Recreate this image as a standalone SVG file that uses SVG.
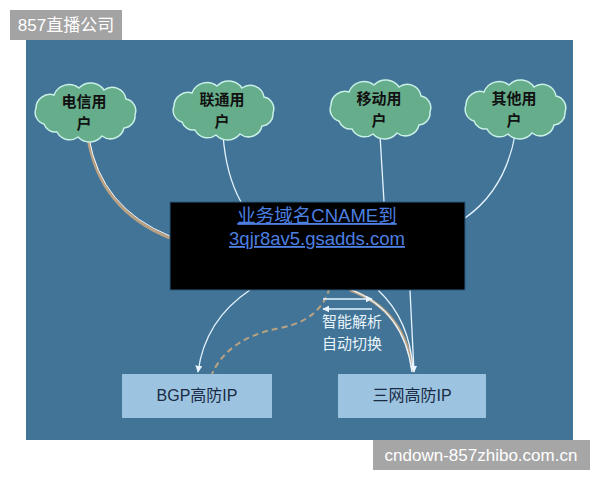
<svg xmlns="http://www.w3.org/2000/svg" width="600" height="480" viewBox="0 0 600 480">
<style>
.cloud{fill:#66ad8b;stroke:#c9f0e6;stroke-width:1.5}
.ct{font-family:"Noto Sans CJK SC",sans-serif;font-size:15px;font-weight:bold;fill:#111;text-anchor:middle}
.box{fill:#9cc4e0}
.bt{font-family:"Liberation Sans","Noto Sans CJK SC",sans-serif;font-size:16px;fill:#1a2a44;text-anchor:middle}
.wl{fill:none;stroke:#e6f4ff;stroke-width:1.3}
.dash{fill:none;stroke:#b9a383;stroke-width:2;stroke-dasharray:6 4}
.lt{font-family:"Liberation Sans","Noto Sans CJK SC",sans-serif;font-size:18.5px;fill:#4c7fe0;text-anchor:middle;text-decoration:underline}
.st{font-family:"Noto Sans CJK SC",sans-serif;font-size:15px;fill:#eaf4fb}
.wm{font-family:"Liberation Sans","Noto Sans CJK SC",sans-serif;font-size:17px;fill:#fff}
</style>
<defs>
<path id="cl" d="M -40,12 A 12 12 0 0 1 -48,-4 A 14 14 0 0 1 -30,-17 A 16 16 0 0 1 -5,-24 A 16 16 0 0 1 20,-22 A 14 14 0 0 1 42,-13 A 12 12 0 0 1 51,3 A 12 12 0 0 1 40,16 A 14 14 0 0 1 18,24 A 16 16 0 0 1 -6,25 A 14 14 0 0 1 -27,20 A 12 12 0 0 1 -40,12 Z"/>
<marker id="ah" viewBox="0 0 10 10" refX="9" refY="5" markerWidth="7" markerHeight="7" orient="auto-start-reverse" markerUnits="userSpaceOnUse"><path d="M0,0 L10,5 L0,10 Z" fill="#eaf4ff"/></marker>
</defs>
<rect width="600" height="480" fill="#fff"/>
<rect x="26" y="40" width="547" height="400" fill="#417497"/>
<g id="label-top"><rect x="10" y="10" width="112" height="30" fill="#a3a3a3"/><text x="66" y="31" class="wm" text-anchor="middle">857直播公司</text></g>
<g id="connectors">
<path d="M 88,138 Q 100,210 170,238" fill="none" stroke="#b8a080" stroke-width="3"/>
<path d="M 89,138 Q 101,208 170,236" fill="none" stroke="#f0f6ff" stroke-width="1"/>
<path class="wl" d="M 223,135 Q 226,175 241,202"/>
<path class="wl" d="M 380,135 Q 382,170 384,202"/>
<path class="wl" d="M 515,135 Q 505,190 465,218"/>
<path class="wl" d="M 250,290 Q 205,320 198,372" marker-end="url(#ah)"/>
<path class="dash" d="M 332,268 Q 332,318 280,328 Q 228,338 212,374"/>
<path d="M 350,290 Q 405,310 413,372" fill="none" stroke="#b8a080" stroke-width="3"/>
<path class="wl" d="M 352,290 Q 404,311 412,372"/>
<path class="wl" d="M 378,290 Q 410,320 413,370"/>
<path class="wl" d="M 410,290 L 414,372" marker-end="url(#ah)"/>
<path class="wl" d="M 323,299 L 372,299" marker-end="url(#ah)"/>
<path class="wl" d="M 372,309 L 323,309" marker-end="url(#ah)"/>
</g>
<g id="cloud-dianxin"><use href="#cl" class="cloud" x="84" y="112"/><text class="ct" x="84" y="107">电信用</text><text class="ct" x="84" y="129">户</text></g>
<g id="cloud-liantong"><use href="#cl" class="cloud" x="222" y="110"/><text class="ct" x="222" y="105">联通用</text><text class="ct" x="222" y="127">户</text></g>
<g id="cloud-yidong"><use href="#cl" class="cloud" x="379" y="109"/><text class="ct" x="379" y="104">移动用</text><text class="ct" x="379" y="126">户</text></g>
<g id="cloud-qita"><use href="#cl" class="cloud" x="514" y="109"/><text class="ct" x="514" y="104">其他用</text><text class="ct" x="514" y="126">户</text></g>
<g id="cname"><rect x="170" y="202" width="295" height="88" fill="#000" stroke="#2c5a80" stroke-width="1"/><text class="lt" x="317" y="222">业务域名CNAME到</text><text class="lt" x="317" y="245">3qjr8av5.gsadds.com</text></g>
<g id="note"><text class="st" x="322" y="327">智能解析</text><text class="st" x="322" y="349">自动切换</text></g>
<g id="bgp"><rect class="box" x="122" y="374" width="150" height="44"/><text class="bt" x="197" y="401">BGP高防IP</text></g>
<g id="sanwang"><rect class="box" x="338" y="374" width="148" height="44"/><text class="bt" x="412" y="401">三网高防IP</text></g>
<g id="label-bottom"><rect x="373" y="440" width="217" height="30" fill="#a6a6a6"/><text x="481" y="461" class="wm" text-anchor="middle">cndown-857zhibo.com.cn</text></g>
</svg>
